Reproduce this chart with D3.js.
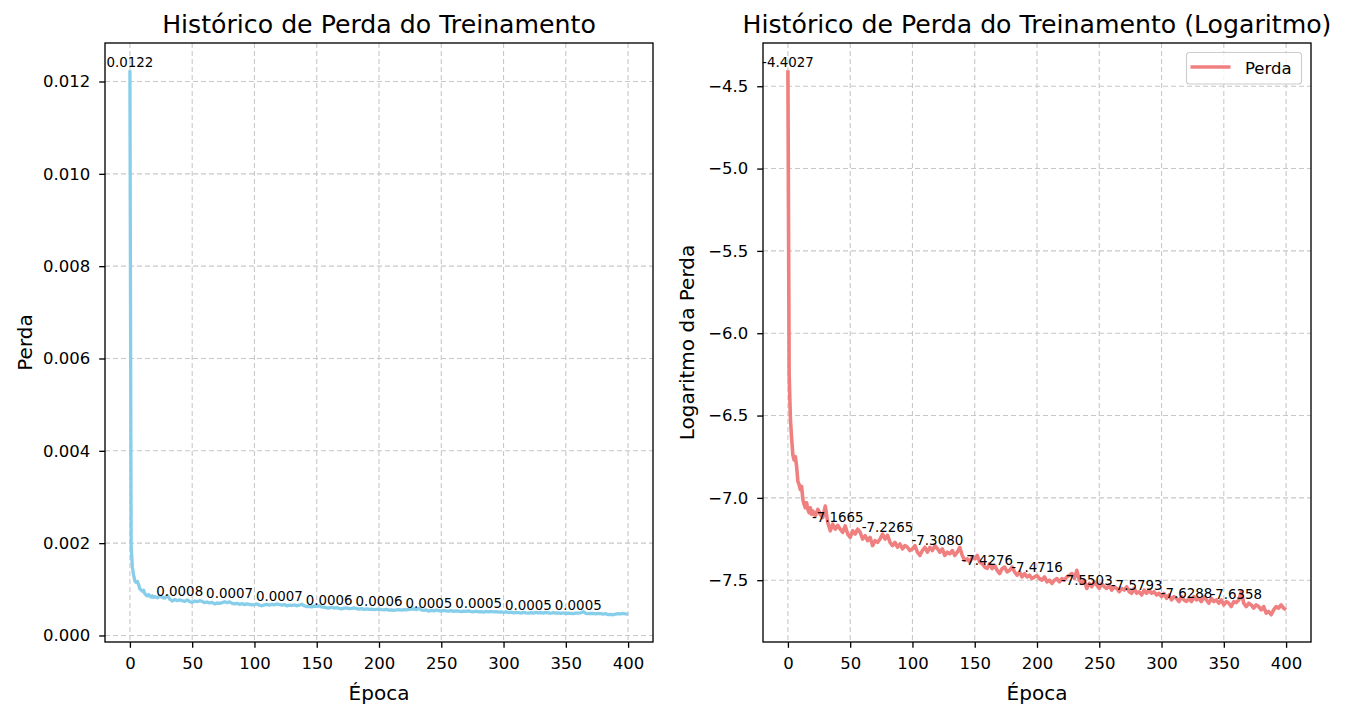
<!DOCTYPE html>
<html><head><meta charset="utf-8">
<script src="https://cdn.jsdelivr.net/npm/d3@7"></script>
<style>
body{margin:0;background:#fff}
svg{display:block}
text{font-family:"DejaVu Sans",sans-serif;fill:#000}
</style>
</head><body>
<svg id="chart" width="1345" height="710"></svg>
<script>
// ---- data ----
const epochs = [0,1,2,3,4,5,6,7,8,9,10,11,12,13,14,15,16,17,18,19,
20,22,24,26,28,30,32,34,36,38,40,42,44,46,48,50,52,54,56,58,
60,62,64,66,68,70,72,74,76,78,80,82,84,86,88,90,92,94,96,98,
100,102,104,106,108,110,112,114,116,118,120,122,124,126,128,130,132,134,136,138,
140,142,144,146,148,150,152,154,156,158,160,162,164,166,168,170,172,174,176,178,
180,182,184,186,188,190,192,194,196,198,200,202,204,206,208,210,212,214,216,218,
220,222,224,226,228,230,232,234,236,238,240,242,244,246,248,250,252,254,256,258,
260,262,264,266,268,270,272,274,276,278,280,282,284,286,288,290,292,294,296,298,
300,302,304,306,308,310,312,314,316,318,320,322,324,326,328,330,332,334,336,338,
340,342,344,346,348,350,352,354,356,358,360,362,364,366,368,370,372,374,376,378,
380,382,384,386,388,390,392,394,396,398,400];

const logLoss = [-4.4027,-6.25,-6.52,-6.64,-6.74,-6.77,-6.75,-6.81,-6.90,-6.92,-6.95,-6.93,-7.01,-7.04,-7.06,-7.03,-7.07,-7.09,-7.06,-7.10,
-7.08,-7.11,-7.07,-7.10,-7.12,-7.05,-7.15,-7.20,-7.16,-7.19,-7.1665,-7.19,-7.21,-7.17,-7.22,-7.24,-7.20,-7.22,-7.19,-7.21,
-7.25,-7.23,-7.26,-7.24,-7.29,-7.26,-7.27,-7.25,-7.22,-7.25,-7.2265,-7.27,-7.29,-7.27,-7.30,-7.28,-7.31,-7.29,-7.30,-7.32,
-7.31,-7.29,-7.33,-7.35,-7.32,-7.30,-7.33,-7.30,-7.32,-7.29,-7.3080,-7.33,-7.31,-7.35,-7.33,-7.34,-7.32,-7.35,-7.33,-7.30,
-7.35,-7.38,-7.37,-7.39,-7.36,-7.37,-7.35,-7.39,-7.40,-7.42,-7.4276,-7.40,-7.43,-7.41,-7.44,-7.46,-7.43,-7.42,-7.45,-7.44,
-7.42,-7.45,-7.47,-7.45,-7.48,-7.46,-7.48,-7.47,-7.49,-7.48,-7.4716,-7.49,-7.50,-7.48,-7.51,-7.50,-7.52,-7.50,-7.49,-7.51,
-7.49,-7.50,-7.48,-7.47,-7.46,-7.49,-7.44,-7.50,-7.52,-7.50,-7.5503,-7.52,-7.54,-7.51,-7.53,-7.55,-7.52,-7.54,-7.55,-7.53,
-7.56,-7.54,-7.55,-7.57,-7.55,-7.56,-7.54,-7.57,-7.58,-7.55,-7.5793,-7.57,-7.59,-7.56,-7.58,-7.56,-7.58,-7.57,-7.59,-7.58,
-7.60,-7.58,-7.61,-7.59,-7.62,-7.60,-7.61,-7.63,-7.60,-7.62,-7.6288,-7.61,-7.63,-7.60,-7.62,-7.61,-7.63,-7.60,-7.62,-7.64,
-7.61,-7.63,-7.62,-7.64,-7.62,-7.65,-7.63,-7.64,-7.66,-7.63,-7.6358,-7.62,-7.57,-7.64,-7.66,-7.64,-7.65,-7.67,-7.65,-7.66,
-7.68,-7.66,-7.70,-7.69,-7.71,-7.68,-7.66,-7.67,-7.65,-7.67,-7.68];

const annotEpochs = [0,40,80,120,160,200,240,280,320,360];
const xTicks = [0,50,100,150,200,250,300,350,400];
const lossTicks = [0,0.002,0.004,0.006,0.008,0.010,0.012];
const logTicks = [-7.5,-7.0,-6.5,-6.0,-5.5,-5.0,-4.5];
const panelTitles = ["Histórico de Perda do Treinamento","Histórico de Perda do Treinamento (Logaritmo)"];
const xLabel = "Época";
const yLabels = ["Perda","Logaritmo da Perda"];
const legendLabel = "Perda";

// loss values (the log panel is the natural log of these)
const loss = logLoss.map(v => Math.exp(v));

const svg = d3.select("#chart");
const plotTop = 43, plotBottom = 642;

function pad(ext){ const r = ext[1]-ext[0]; return [ext[0]-0.05*r, ext[1]+0.05*r]; }

function panel(o){
  const g = svg.append("g");
  const x = d3.scaleLinear().domain(pad([0,400])).range([o.left,o.right]);
  const y = d3.scaleLinear().domain(pad(d3.extent(o.values))).range([plotBottom,plotTop]);
  // grid
  const grid = g.append("g").attr("stroke","#c8c8c8").attr("stroke-width",1.1).attr("stroke-dasharray","5,3");
  xTicks.forEach(t=>grid.append("line").attr("x1",x(t)).attr("x2",x(t)).attr("y1",plotTop).attr("y2",plotBottom));
  o.yTicks.forEach(t=>grid.append("line").attr("x1",o.left).attr("x2",o.right).attr("y1",y(t)).attr("y2",y(t)));
  // line
  const data = epochs.map((e,i)=>({e, v:o.values[i]}));
  g.append("path").datum(data)
    .attr("fill","none").attr("stroke",o.color).attr("stroke-width",o.lw)
    .attr("stroke-linejoin","round").attr("stroke-linecap","butt")
    .attr("d", d3.line().x(d=>x(d.e)).y(d=>y(d.v)));
  // annotations
  annotEpochs.forEach(ae=>{
    const i = epochs.indexOf(ae);
    g.append("text").attr("x",x(ae)).attr("y",y(o.values[i])-3.5)
      .attr("text-anchor","middle").attr("font-size","13.4px").attr("fill","#222")
      .text(o.annotFmt(o.values[i]));
  });
  // axes
  const ax = g.append("g").attr("transform",`translate(0,${plotBottom})`)
    .call(d3.axisBottom(x).tickValues(xTicks).tickSize(5.8).tickPadding(9.5).tickFormat(d=>String(d)));
  const ay = g.append("g").attr("transform",`translate(${o.left},0)`)
    .call(d3.axisLeft(y).tickValues(o.yTicks).tickSize(5.8).tickPadding(9).tickFormat(o.tickFmt));
  [ax,ay].forEach(a=>{
    a.select(".domain").remove();
    a.selectAll(".tick line").attr("stroke","#000").attr("stroke-width",1.33);
    a.selectAll(".tick text").attr("font-size","16.5px").attr("font-family","DejaVu Sans").attr("fill","#000");
  });
  // spines
  g.append("rect").attr("x",o.left).attr("y",plotTop).attr("width",o.right-o.left).attr("height",plotBottom-plotTop)
    .attr("fill","none").attr("stroke","#000").attr("stroke-width",1.33);
  // title
  g.append("text").attr("x",(o.left+o.right)/2).attr("y",33).attr("text-anchor","middle")
    .attr("font-size","25.2px").text(o.title);
  // x label
  g.append("text").attr("x",(o.left+o.right)/2).attr("y",700).attr("text-anchor","middle")
    .attr("font-size","20px").text(xLabel);
  // y label
  g.append("text").attr("transform",`translate(${o.ylabelX},${(plotTop+plotBottom)/2}) rotate(-90)`)
    .attr("text-anchor","middle").attr("font-size","20px").text(o.ylabel);
  return {g,x,y};
}

panel({left:105,right:653,values:loss,yTicks:lossTicks,color:"#87CEEB",lw:3.3,
  tickFmt:d=>d.toFixed(3), annotFmt:v=>v.toFixed(4),
  title:panelTitles[0], ylabel:yLabels[0], ylabelX:31.5});

const p2 = panel({left:763,right:1311,values:logLoss,yTicks:logTicks,color:"#F08080",lw:3.6,
  tickFmt:d=>(d<0?"\u2212":"")+Math.abs(d).toFixed(1), annotFmt:v=>v.toFixed(4),
  title:panelTitles[1], ylabel:yLabels[1], ylabelX:694});

// legend (upper right of the log panel)
const lg = p2.g.append("g");
lg.append("rect").attr("x",1186.5).attr("y",52.5).attr("width",115).attr("height",31.5).attr("rx",3)
  .attr("fill","#fff").attr("fill-opacity",0.8).attr("stroke","#cccccc").attr("stroke-width",1.1);
lg.append("line").attr("x1",1190.5).attr("x2",1230.5).attr("y1",67).attr("y2",67)
  .attr("stroke","#F08080").attr("stroke-width",3.3);
lg.append("text").attr("x",1245).attr("y",73.5).attr("font-size","16.5px").text(legendLabel);
</script>
</body></html>
